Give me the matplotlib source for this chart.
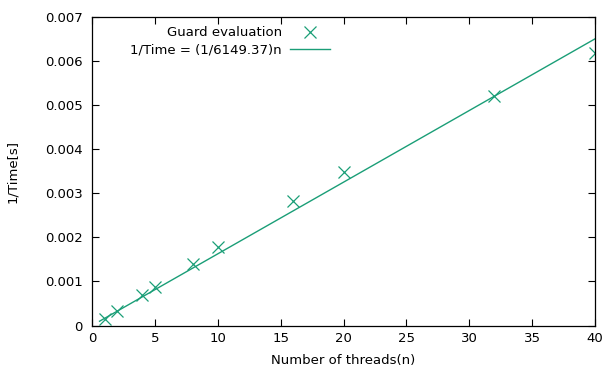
import matplotlib
matplotlib.use('Agg')
import matplotlib.pyplot as plt
import numpy as np
from matplotlib.ticker import FuncFormatter

# valores
threads = [1, 2, 4, 5, 8, 10, 16, 20, 32, 40]
inv_time = [0.00014, 0.00032, 0.00070, 0.00087, 0.00139, 0.00178, 0.00282, 0.00348, 0.00521, 0.00618]
slope_div = 6149.37

color = '#1a9e77'

plt.rcParams['font.family'] = 'DejaVu Sans'
plt.rcParams['font.size'] = 9.5

fig = plt.figure(figsize=(6.04, 3.67), dpi=100)
ax = fig.add_axes([0.1523, 0.1130, 0.8329, 0.8407])

ax.plot(threads, inv_time, linestyle='none', marker='x', markersize=8.5,
        markeredgewidth=0.9, color=color, label='Guard evaluation')
n_fit = np.array([0.6, 40])  # la recta empieza cerca del primer punto
ax.plot(n_fit, n_fit / slope_div, color=color, linewidth=1.0,
        label='1/Time = (1/%.2f)n' % slope_div)

ax.set_xlim(0, 40)
ax.set_ylim(0, 0.007)
ax.set_xticks(range(0, 41, 5))
ax.set_yticks(np.arange(0, 0.0071, 0.001))
ax.yaxis.set_major_formatter(FuncFormatter(lambda v, p: '0' if abs(v) < 1e-12 else '%.3f' % v))

ax.tick_params(direction='in', top=True, right=True, length=5, width=0.8)
ax.tick_params(axis='y', pad=6.5)
ax.tick_params(axis='x', pad=5)
for s in ax.spines.values():
    s.set_linewidth(0.9)

ax.set_xlabel('Number of threads(n)', labelpad=6)
ax.set_ylabel('1/Time[s]', labelpad=19)

ax.legend(loc='upper right', bbox_to_anchor=(0.488, 0.995), frameon=False,
          markerfirst=False, handlelength=3.0, handletextpad=0.6,
          labelspacing=0.3, borderaxespad=0.2)

fig.savefig('out.png', dpi=100)
